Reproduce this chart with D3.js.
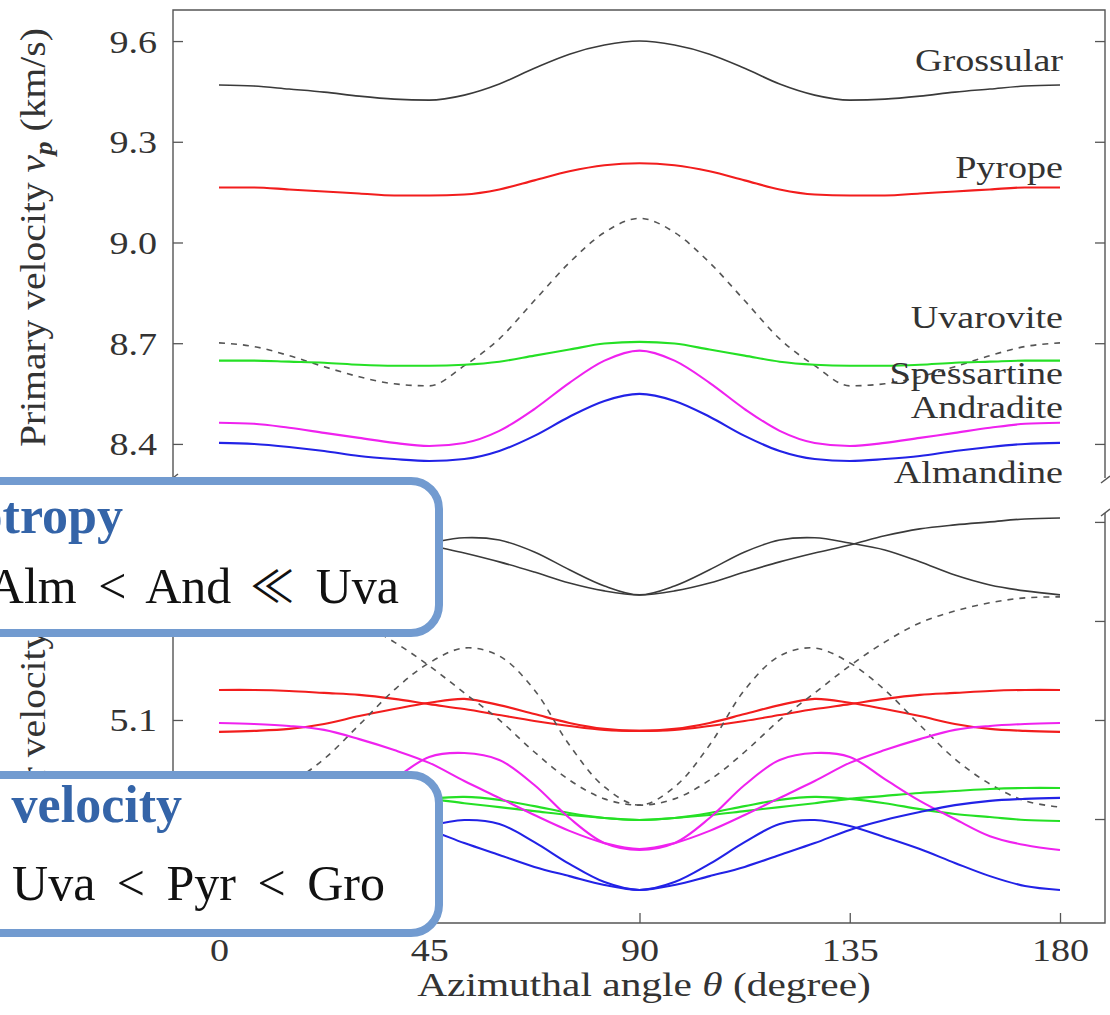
<!DOCTYPE html>
<html>
<head>
<meta charset="utf-8">
<script src="https://cdn.jsdelivr.net/npm/d3@7"></script>
<style>
  html, body { margin: 0; padding: 0; background: #fff; }
  svg { display: block; }
</style>
</head>
<body>
<svg id="chart" width="1110" height="1015"></svg>
<script>
// Azimuthal angle samples (degree)
const angles = [0, 7.5, 15, 22.5, 30, 37.5, 45, 52.5, 60, 67.5, 75, 82.5, 90,
                97.5, 105, 112.5, 120, 127.5, 135, 142.5, 150, 157.5, 165, 172.5, 180];

// Primary velocity v_p (km/s)
const vpGrossular   = [9.469, 9.466, 9.457, 9.448, 9.436, 9.427, 9.424, 9.439, 9.472, 9.519, 9.561, 9.588, 9.600,
                       9.588, 9.561, 9.519, 9.472, 9.439, 9.424, 9.427, 9.436, 9.448, 9.457, 9.466, 9.469];
const vpPyrope      = [9.164, 9.164, 9.158, 9.152, 9.146, 9.140, 9.140, 9.143, 9.158, 9.185, 9.212, 9.230, 9.236,
                       9.230, 9.212, 9.185, 9.158, 9.143, 9.140, 9.140, 9.146, 9.152, 9.158, 9.164, 9.164];
const vpUvarovite   = [8.701, 8.690, 8.663, 8.630, 8.600, 8.579, 8.573, 8.633, 8.713, 8.827, 8.940, 9.030, 9.072,
                       9.030, 8.940, 8.827, 8.713, 8.633, 8.573, 8.579, 8.600, 8.630, 8.663, 8.690, 8.701];
const vpSpessartine = [8.648, 8.648, 8.645, 8.642, 8.636, 8.633, 8.633, 8.636, 8.645, 8.663, 8.681, 8.699, 8.704,
                       8.699, 8.681, 8.663, 8.645, 8.636, 8.633, 8.633, 8.636, 8.642, 8.645, 8.648, 8.648];
const vpAndradite   = [8.463, 8.460, 8.448, 8.433, 8.418, 8.403, 8.394, 8.403, 8.439, 8.504, 8.582, 8.648, 8.678,
                       8.648, 8.582, 8.504, 8.439, 8.403, 8.394, 8.403, 8.418, 8.433, 8.448, 8.460, 8.463];
const vpAlmandine   = [8.403, 8.400, 8.391, 8.379, 8.364, 8.355, 8.349, 8.355, 8.379, 8.424, 8.481, 8.528, 8.549,
                       8.528, 8.481, 8.424, 8.379, 8.355, 8.349, 8.355, 8.364, 8.379, 8.391, 8.400, 8.403];

// Shear velocities v_s (km/s): two polarisations per garnet
const vsGrossular1   = [5.479, 5.491, 5.509, 5.539, 5.579, 5.615, 5.636, 5.652, 5.645, 5.609, 5.555, 5.506, 5.479,
                        5.506, 5.555, 5.609, 5.645, 5.652, 5.636, 5.615, 5.579, 5.539, 5.509, 5.491, 5.479];
const vsGrossular2   = [5.712, 5.709, 5.700, 5.691, 5.679, 5.658, 5.630, 5.606, 5.579, 5.548, 5.515, 5.491, 5.479,
                        5.491, 5.515, 5.548, 5.579, 5.606, 5.630, 5.658, 5.679, 5.691, 5.700, 5.709, 5.712];
const vsPyrope1      = [5.064, 5.067, 5.073, 5.088, 5.112, 5.133, 5.152, 5.164, 5.145, 5.118, 5.091, 5.073, 5.067,
                        5.073, 5.091, 5.118, 5.145, 5.164, 5.152, 5.133, 5.112, 5.088, 5.073, 5.067, 5.064];
const vsPyrope2      = [5.191, 5.191, 5.188, 5.182, 5.176, 5.164, 5.148, 5.133, 5.115, 5.097, 5.082, 5.070, 5.067,
                        5.070, 5.082, 5.097, 5.115, 5.133, 5.148, 5.164, 5.176, 5.182, 5.188, 5.191, 5.191];
const vsUvarovite1   = [4.836, 4.855, 4.906, 4.982, 5.085, 5.191, 5.273, 5.318, 5.294, 5.191, 5.024, 4.897, 4.842,
                        4.897, 5.024, 5.191, 5.294, 5.318, 5.273, 5.191, 5.085, 4.982, 4.906, 4.855, 4.836];
const vsUvarovite2   = [5.473, 5.470, 5.455, 5.430, 5.394, 5.336, 5.264, 5.182, 5.100, 5.003, 4.918, 4.861, 4.842,
                        4.861, 4.918, 5.003, 5.100, 5.182, 5.264, 5.336, 5.394, 5.430, 5.455, 5.470, 5.473];
const vsAndradite1   = [4.706, 4.721, 4.748, 4.800, 4.855, 4.921, 4.988, 5.000, 4.979, 4.903, 4.803, 4.727, 4.706,
                        4.727, 4.803, 4.903, 4.979, 5.000, 4.988, 4.921, 4.855, 4.800, 4.748, 4.721, 4.706];
const vsAndradite2   = [5.091, 5.088, 5.082, 5.070, 5.042, 5.009, 4.970, 4.915, 4.864, 4.812, 4.764, 4.727, 4.709,
                        4.727, 4.764, 4.812, 4.864, 4.915, 4.970, 5.009, 5.042, 5.070, 5.082, 5.088, 5.091];
const vsSpessartine1 = [4.894, 4.894, 4.891, 4.885, 4.879, 4.870, 4.861, 4.848, 4.836, 4.824, 4.812, 4.803, 4.797,
                        4.803, 4.812, 4.824, 4.836, 4.848, 4.861, 4.870, 4.879, 4.885, 4.891, 4.894, 4.894];
const vsSpessartine2 = [4.794, 4.797, 4.806, 4.815, 4.830, 4.848, 4.861, 4.867, 4.858, 4.839, 4.818, 4.803, 4.797,
                        4.803, 4.818, 4.839, 4.858, 4.867, 4.861, 4.848, 4.830, 4.815, 4.806, 4.797, 4.794];
const vsAlmandine1   = [4.585, 4.597, 4.627, 4.667, 4.709, 4.745, 4.779, 4.797, 4.785, 4.730, 4.664, 4.609, 4.585,
                        4.609, 4.664, 4.730, 4.785, 4.797, 4.779, 4.745, 4.709, 4.667, 4.627, 4.597, 4.585];
const vsAlmandine2   = [4.864, 4.861, 4.855, 4.842, 4.821, 4.797, 4.767, 4.727, 4.691, 4.655, 4.627, 4.600, 4.585,
                        4.600, 4.627, 4.655, 4.691, 4.727, 4.767, 4.797, 4.821, 4.842, 4.855, 4.861, 4.864];

// Tick values (labels are printed only where the call-outs leave them uncovered)
const xTicks = [0, 45, 90, 135, 180];
const vpTicks = [8.4, 8.7, 9.0, 9.3, 9.6];
const vsTicks = [4.8, 5.1, 5.4, 5.7];
const vsTickLabels = [5.1];

// Garnet names
const garnetNames = ["Grossular", "Pyrope", "Uvarovite", "Spessartine", "Andradite", "Almandine"];

// ---------------------------------------------------------------------------
const svg = d3.select("#chart");
const SERIF = "'Liberation Serif', 'Times New Roman', serif";
const INK = "#333";
const SX = 1.19;               // horizontal glyph stretch of the figure lettering

const frameLeft = 173, frameRight = 1105;
const topPanel = { top: 10, bottom: 478 };
const botPanel = { top: 513, bottom: 923 };

const x = d3.scaleLinear().domain([0, 180]).range([219, 1060]);
const yP = d3.scaleLinear().domain([8.2985, 9.6925]).range([topPanel.bottom, topPanel.top]);
const yS = d3.scaleLinear().domain([4.485, 5.727]).range([botPanel.bottom, botPanel.top]);

const colors = {
  Grossular: "#3a3a3a", Pyrope: "#f21d1d", Uvarovite: "#555",
  Spessartine: "#25e025", Andradite: "#ef22ef", Almandine: "#2222e6"
};

// ---- frame -----------------------------------------------------------------
const frame = svg.append("g").attr("stroke", "#555").attr("stroke-width", 1.4).attr("fill", "none");
frame.append("path").attr("d",
  `M${frameLeft},${topPanel.bottom}V${topPanel.top}H${frameRight}V${topPanel.bottom}`);
frame.append("path").attr("d",
  `M${frameLeft},${botPanel.top}V${botPanel.bottom}H${frameRight}V${botPanel.top}`);
// break marks where the two panels are cut
[[frameLeft, topPanel.bottom], [frameRight, topPanel.bottom + 2],
 [frameLeft, botPanel.top], [frameRight, botPanel.top]].forEach(([bx, by]) => {
  frame.append("line").attr("x1", bx - 4).attr("y1", by + 3).attr("x2", bx + 5).attr("y2", by - 4);
});

// ---- axes ------------------------------------------------------------------
function styleAxis(g) {
  g.select(".domain").remove();
  g.selectAll(".tick line").attr("stroke", "#555").attr("stroke-width", 1.3);
  g.attr("font-family", SERIF).attr("font-size", 32);
}
function placeTickText(g, dx, dy, anchor) {
  g.selectAll(".tick text")
    .attr("x", null).attr("y", null).attr("dy", null)
    .attr("text-anchor", anchor)
    .attr("fill", INK)
    .attr("transform", `translate(${dx},${dy}) scale(${SX},1)`);
}
const fmt1 = d3.format(".1f");

const axP = svg.append("g").attr("transform", `translate(${frameLeft},0)`)
  .call(d3.axisLeft(yP).tickValues(vpTicks).tickSize(-10).tickFormat(fmt1));
styleAxis(axP); placeTickText(axP, -16, 11, "end");

svg.append("g").attr("transform", `translate(${frameRight},0)`)
  .call(d3.axisRight(yP).tickValues(vpTicks).tickSize(-10).tickFormat(""))
  .call(styleAxis);

const axS = svg.append("g").attr("transform", `translate(${frameLeft},0)`)
  .call(d3.axisLeft(yS).tickValues(vsTicks).tickSize(-10)
    .tickFormat(d => vsTickLabels.includes(d) ? fmt1(d) : ""));
styleAxis(axS); placeTickText(axS, -16, 11, "end");

svg.append("g").attr("transform", `translate(${frameRight},0)`)
  .call(d3.axisRight(yS).tickValues(vsTicks).tickSize(-10).tickFormat(""))
  .call(styleAxis);

const axX = svg.append("g").attr("transform", `translate(0,${botPanel.bottom})`)
  .call(d3.axisBottom(x).tickValues(xTicks).tickSize(-10).tickFormat(d3.format("d")));
styleAxis(axX); placeTickText(axX, 0, 38, "middle");

// ---- curves ----------------------------------------------------------------
const lineP = d3.line().x((d, i) => x(angles[i])).y(d => yP(d)).curve(d3.curveMonotoneX);
const lineS = d3.line().x((d, i) => x(angles[i])).y(d => yS(d)).curve(d3.curveCatmullRom.alpha(0.5));

const primarySeries = [vpGrossular, vpPyrope, vpUvarovite, vpSpessartine, vpAndradite, vpAlmandine];
const shearSeries = [
  [vsGrossular1, vsGrossular2], [vsPyrope1, vsPyrope2], [vsUvarovite1, vsUvarovite2],
  [vsSpessartine1, vsSpessartine2], [vsAndradite1, vsAndradite2], [vsAlmandine1, vsAlmandine2]
];

function styleCurve(path, name) {
  const dashed = name === "Uvarovite";
  path.attr("fill", "none")
    .attr("stroke", colors[name])
    .attr("stroke-width", name === "Grossular" ? 1.6 : (dashed ? 1.6 : 2.1))
    .attr("stroke-dasharray", dashed ? "6,6" : null)
    .attr("stroke-linecap", "butt");
}

const curves = svg.append("g");
shearSeries.forEach((pair, k) => {
  pair.forEach(vals => curves.append("path").attr("d", lineS(vals)).call(styleCurve, garnetNames[k]));
});
primarySeries.forEach((vals, k) => {
  curves.append("path").attr("d", lineP(vals)).call(styleCurve, garnetNames[k]);
});

// ---- garnet labels (right end of the primary curves) -----------------------
const labelShift = [-14, -9, -15, 23, -5, 40];
garnetNames.forEach((name, k) => {
  const vals = primarySeries[k];
  svg.append("text")
    .attr("font-family", SERIF).attr("font-size", 32).attr("fill", INK)
    .attr("text-anchor", "end")
    .attr("transform", `translate(1063,${yP(vals[vals.length - 1]) + labelShift[k]}) scale(${SX},1)`)
    .text(name);
});

// ---- axis titles -----------------------------------------------------------
function velocityTitle(words, sub) {
  const t = svg.append("text").attr("font-family", SERIF).attr("font-size", 32).attr("fill", INK);
  t.append("tspan").text(words + " ");
  t.append("tspan").attr("font-style", "italic").text("v");
  t.append("tspan").attr("font-style", "italic").attr("font-weight", "bold")
    .attr("font-size", 22).attr("dy", 6).text(sub);
  t.append("tspan").attr("dy", -6).text(" (km/s)");
  return t;
}
const tP = velocityTitle("Primary velocity", "p");
const sY = 419 / tP.node().getComputedTextLength();
tP.attr("transform", `translate(45,447) rotate(-90) scale(${sY},1.15)`);

const prefix = svg.append("text").attr("font-family", SERIF).attr("font-size", 32).text("Shear ");
const prefixLen = prefix.node().getComputedTextLength();
prefix.remove();
const tS = velocityTitle("Shear velocity", "s");
tS.attr("transform", `translate(45,${767 + sY * prefixLen}) rotate(-90) scale(${sY},1.15)`);

const xt = svg.append("text").attr("font-family", SERIF).attr("font-size", 34).attr("fill", INK)
  .attr("text-anchor", "middle");
xt.append("tspan").text("Azimuthal angle ");
xt.append("tspan").attr("font-style", "italic").text("θ");
xt.append("tspan").text(" (degree)");
const sX = 454 / xt.node().getComputedTextLength();
xt.attr("transform", `translate(644,996) scale(${sX},1)`);

// ---- call-out boxes --------------------------------------------------------
const BOX_STROKE = "#729bd0", BOX_TEXT = "#3464a8";
const callouts = [
  { y0: 481, y1: 633, head: "Anisotropy", headEnd: 123, headY: 533,
    line: ["Alm", "<", "And", "≪", "Uva"], lineEnd: 399, lineY: 603 },
  { y0: 775, y1: 933, head: "Shear velocity", headEnd: 182, headY: 822,
    line: ["Uva", "<", "Pyr", "<", "Gro"], lineEnd: 385, lineY: 900 }
];
callouts.forEach(c => {
  svg.append("rect")
    .attr("x", -60).attr("y", c.y0).attr("width", 439 + 60).attr("height", c.y1 - c.y0)
    .attr("rx", 28).attr("ry", 28)
    .attr("fill", "#fff").attr("stroke", BOX_STROKE).attr("stroke-width", 8);
  svg.append("text")
    .attr("x", c.headEnd).attr("y", c.headY).attr("text-anchor", "end")
    .attr("font-family", SERIF).attr("font-weight", "bold").attr("font-size", 52)
    .attr("fill", BOX_TEXT).text(c.head);
  const t = svg.append("text")
    .attr("x", c.lineEnd).attr("y", c.lineY).attr("text-anchor", "end")
    .attr("font-family", SERIF).attr("font-size", 50).attr("word-spacing", 9)
    .attr("fill", "#111");
  c.line.forEach((w, i) => {
    const s = t.append("tspan").text((i ? " " : "") + w);
    if (w === "≪") s.attr("font-family", "'Noto Sans CJK JP', 'DejaVu Serif', serif").attr("font-size", 44);
  });
});
</script>
</body>
</html>
